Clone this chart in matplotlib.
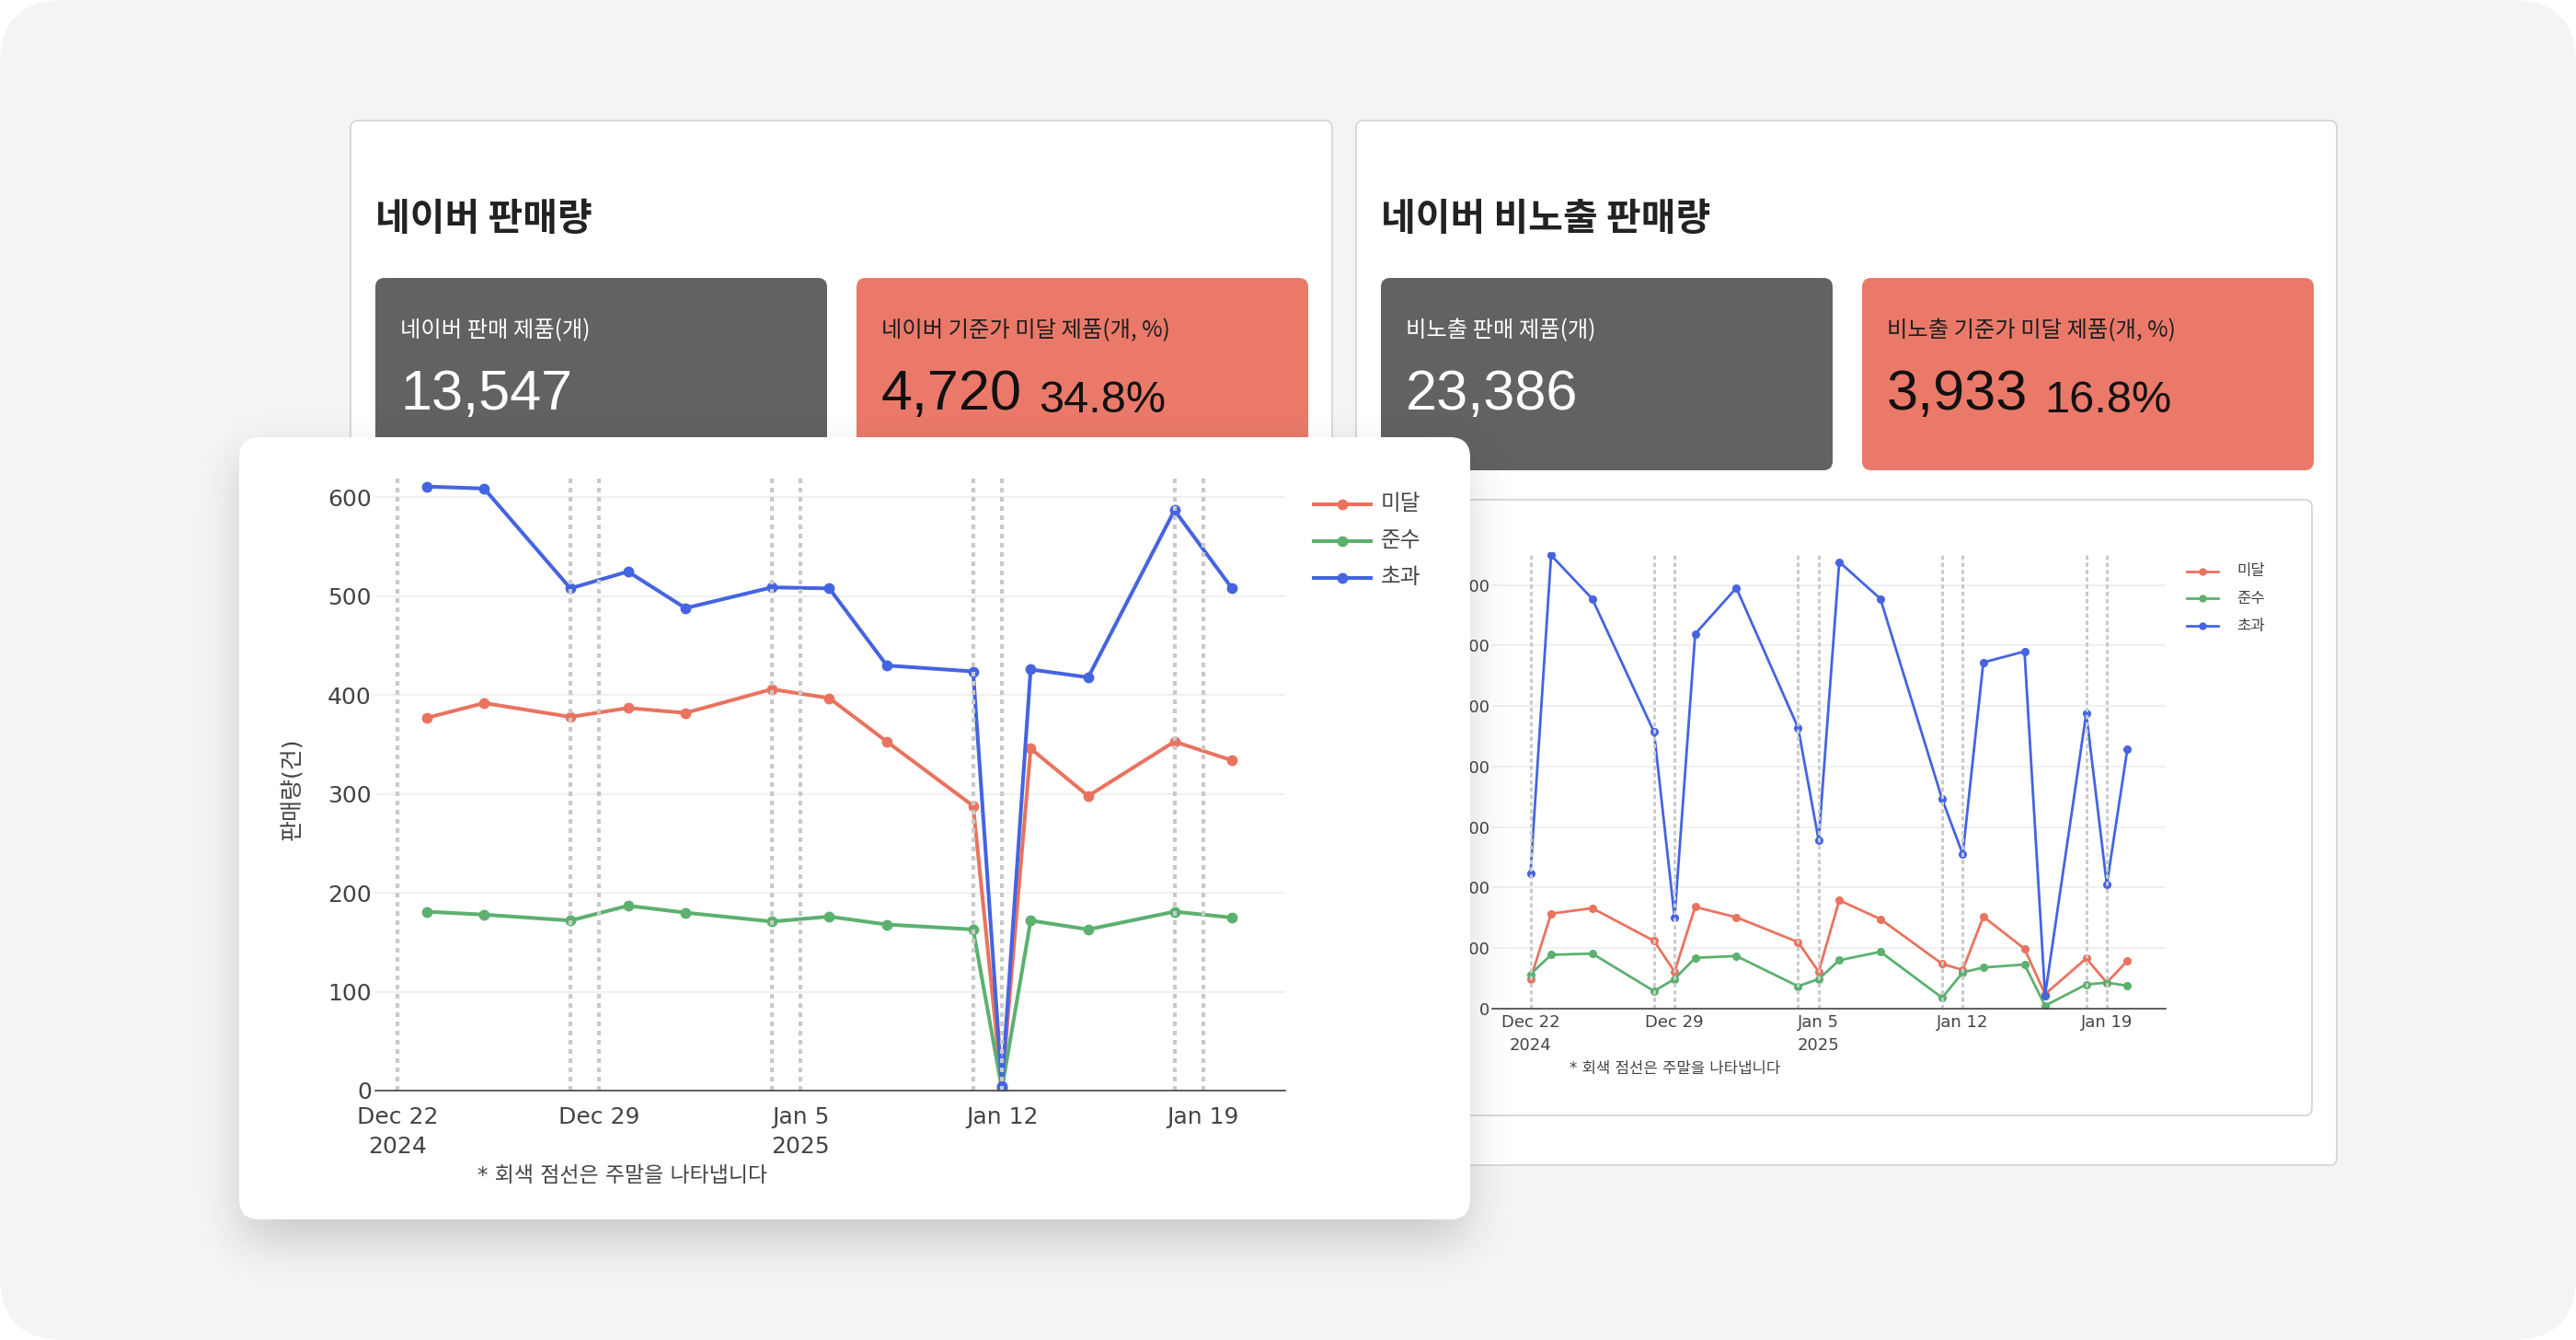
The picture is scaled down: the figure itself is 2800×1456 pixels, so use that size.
import numpy as np
import matplotlib
matplotlib.use("Agg")
import matplotlib.pyplot as plt
import matplotlib.dates as mdates
from matplotlib.patches import FancyBboxPatch

plt.rcParams['font.family'] = ['DejaVu Sans', 'Noto Sans CJK KR']

W, H = 2800, 1456

# ---- data: front chart (네이버 판매량)
naver_dates = ['2024-12-23', '2024-12-25', '2024-12-28', '2024-12-30', '2025-01-01',
               '2025-01-04', '2025-01-06', '2025-01-08', '2025-01-11', '2025-01-12',
               '2025-01-13', '2025-01-15', '2025-01-18', '2025-01-20']
naver_under = [377, 392, 378, 387, 382, 406, 397, 353, 288, 3, 346, 298, 353, 334]
naver_keep = [181, 178, 172, 187, 180, 171, 176, 168, 163, 2, 172, 163, 181, 175]
naver_over = [611, 609, 508, 525, 488, 509, 508, 430, 424, 5, 426, 418, 587, 508]

# ---- data: back chart (네이버 비노출 판매량)
hidden_dates = ['2024-12-22', '2024-12-23', '2024-12-25', '2024-12-28', '2024-12-29',
                '2024-12-30', '2025-01-01', '2025-01-04', '2025-01-05', '2025-01-06',
                '2025-01-08', '2025-01-11', '2025-01-12', '2025-01-13', '2025-01-15',
                '2025-01-16', '2025-01-18', '2025-01-19', '2025-01-20']
hidden_under = [49, 157, 166, 112, 61, 168, 151, 110, 61, 179, 148, 74, 64, 152, 99, 24, 83, 43, 79]
hidden_keep = [57, 89, 91, 29, 49, 84, 87, 37, 49, 80, 94, 18, 60, 68, 73, 5, 40, 43, 38]
hidden_over = [224, 749, 677, 457, 150, 619, 695, 464, 278, 738, 677, 346, 255, 572, 590, 22, 488, 205, 429]

weekends = ['2024-12-22', '2024-12-28', '2024-12-29', '2025-01-04', '2025-01-05',
            '2025-01-11', '2025-01-12', '2025-01-18', '2025-01-19']
tick_dates = ['2024-12-22', '2024-12-29', '2025-01-05', '2025-01-12', '2025-01-19']
tick_labels = ['Dec 22\n2024', 'Dec 29', 'Jan 5\n2025', 'Jan 12', 'Jan 19']

series_names = ['미달', '준수', '초과']
series_colors = ['#E9735F', '#5CB070', '#4464E0']

kpi_titles = ['네이버 판매량', '네이버 비노출 판매량']
kpi_labels = [['네이버 판매 제품(개)', '네이버 기준가 미달 제품(개, %)'],
              ['비노출 판매 제품(개)', '비노출 기준가 미달 제품(개, %)']]
kpi_counts = ['13,547', '23,386']
kpi_under = ['4,720', '3,933']
kpi_pct = ['34.8%', '16.8%']

note = '* 회색 점선은 주말을 나타냅니다'


def fig_rect(l, t, r, b):
    return [l / W, 1 - b / H, (r - l) / W, (b - t) / H]


def rbox(ax, x0, y0, x1, y1, r, fc, ec='none', lw=0, z=1):
    p = FancyBboxPatch((x0, y0), x1 - x0, y1 - y0,
                       boxstyle=f"round,pad=0,rounding_size={r}",
                       fc=fc, ec=ec, lw=lw, zorder=z)
    ax.add_patch(p)


def blur(a, r, axis):
    pad = [(r + 1, r) if i == axis else (0, 0) for i in range(2)]
    c = np.cumsum(np.pad(a, pad, mode='edge'), axis=axis)
    n = a.shape[axis]
    hi = np.take(c, np.arange(2 * r + 1, 2 * r + 1 + n), axis=axis)
    lo = np.take(c, np.arange(0, n), axis=axis)
    return (hi - lo) / (2 * r + 1)


def pixel_axes(fig, z):
    ax = fig.add_axes([0, 0, 1, 1])
    ax.set_xlim(0, W)
    ax.set_ylim(H, 0)
    ax.axis('off')
    ax.set_zorder(z)
    ax.patch.set_visible(False)
    return ax


def draw_chart(ax, dates, series, xpad, ymax, lw, ms, vlw, vdash, fs, xpad_pt, ypad_pt):
    d = np.array(dates, dtype='datetime64[D]')
    for vals, col in zip(series, series_colors):
        ax.plot(d, vals, color=col, lw=lw, marker='o', ms=ms, zorder=3,
                solid_joinstyle='round')
    for w in weekends:
        ax.axvline(np.datetime64(w), color='#C9C9C9', lw=vlw, ls=(0, vdash),
                   zorder=5, dash_capstyle='butt')
    x0 = mdates.date2num(np.datetime64('2024-12-22'))
    ax.set_xlim(x0 - xpad[0], x0 + xpad[1])
    ax.set_ylim(0, ymax)
    ax.set_xticks([mdates.date2num(np.datetime64(t)) for t in tick_dates])
    ax.set_xticklabels(tick_labels, ha='center', multialignment='center',
                       linespacing=1.45)
    ax.set_yticks(np.arange(0, ymax, 100))
    ax.yaxis.grid(True, color='#ECECEC', lw=1.1)
    ax.set_axisbelow(True)
    for s in ['left', 'right', 'top']:
        ax.spines[s].set_visible(False)
    ax.spines['bottom'].set_color('#444444')
    ax.spines['bottom'].set_linewidth(1.2)
    ax.spines['bottom'].set_zorder(6)
    ax.tick_params(axis='both', length=0, labelsize=fs, colors='#444444')
    ax.tick_params(axis='x', pad=xpad_pt)
    ax.tick_params(axis='y', pad=ypad_pt)
    ax.set_facecolor('none')


def legend(ax, x0, x1, xt, ys, lw, ms, fs, z):
    for name, col, y in zip(series_names, series_colors, ys):
        ax.plot([x0, x1], [y, y], color=col, lw=lw, zorder=z)
        ax.plot([(x0 + x1) / 2], [y], 'o', color=col, ms=ms, zorder=z)
        ax.text(xt, y, name, fontsize=fs, color='#444444', va='center', ha='left',
                family=['Noto Sans CJK KR'], zorder=z)


fig = plt.figure(figsize=(W / 100, H / 100), dpi=100)
fig.patch.set_facecolor('white')

# ---- background: panel, back cards, KPI boxes
bg = pixel_axes(fig, 0)
rbox(bg, 0, 0, W, H, 70, '#F5F3F4')
cards = [(381, 131, 1448, 1266), (1474, 131, 2540, 1266)]
for i, (cx0, cy0, cx1, cy1) in enumerate(cards):
    rbox(bg, cx0, cy0, cx1, cy1, 8, 'white', ec='#D6D6D6', lw=1.3, z=2)
    bx = cx0 + 27
    bg.text(bx, 238, kpi_titles[i], fontsize=29.5, fontweight='bold', color='#222222',
            va='center', ha='left', family=['Noto Sans CJK KR'], zorder=3)
    w_box = 491
    dx0, sx0 = bx, bx + w_box + 32
    rbox(bg, dx0, 302, dx0 + w_box, 511, 10, '#626262', z=3)
    rbox(bg, sx0, 302, sx0 + w_box, 511, 10, '#EB7969', z=3)
    bg.text(dx0 + 27, 359, kpi_labels[i][0], fontsize=17.5, color='white', va='center',
            family=['Noto Sans CJK KR'], zorder=4)
    bg.text(sx0 + 27, 359, kpi_labels[i][1], fontsize=17.5, color='#1E1E1E', va='center',
            family=['Noto Sans CJK KR'], zorder=4)
    bg.text(dx0 + 27, 445, kpi_counts[i], fontsize=44, color='white', va='baseline',
            family='Liberation Sans', zorder=4)
    t = bg.text(sx0 + 27, 445, kpi_under[i], fontsize=44, color='#111111', va='baseline',
                family='Liberation Sans', zorder=4)
    bg.annotate(kpi_pct[i], xy=(1, 0), xycoords=t, xytext=(18, 0),
                textcoords='offset pixels', fontsize=35, color='#111111',
                va='bottom', family='Liberation Sans', zorder=4)
# chart sub-box of the right card
rbox(bg, 1500, 543, 2513, 1212, 8, 'white', ec='#D6D6D6', lw=1.3, z=2)

# ---- back chart (비노출)
ax2 = fig.add_axes(fig_rect(1622, 600, 2354, 1096))
ax2.set_zorder(1)
draw_chart(ax2, hidden_dates, [hidden_under, hidden_keep, hidden_over],
           (1.86, 30.86), 754, 2.0, 5.5, 2.1, (1.6, 1.1), 13, 4.5, 2)
legend(bg, 2377, 2411, 2431, [621, 650, 680], 2.0, 5, 12, 5)
bg.text(1821, 1161, note, fontsize=12, color='#444444', ha='center', va='center', zorder=5)

# ---- front card with shadow
ov = pixel_axes(fig, 2)
fx0, fy0, fx1, fy1 = 260, 475, 1598, 1325
mask = np.zeros((H, W))
mask[fy0 + 22:fy1 + 22, fx0 + 4:fx1 - 4] = 1.0
for _ in range(3):
    mask = blur(mask, 24, 0)
    mask = blur(mask, 24, 1)
shadow = np.zeros((H, W, 4))
shadow[..., 3] = mask * 0.18
ov.imshow(shadow, extent=(0, W, H, 0), interpolation='bilinear', zorder=1)
ov.set_aspect('auto')
ov.set_xlim(0, W)
ov.set_ylim(H, 0)
rbox(ov, fx0, fy0, fx1, fy1, 22, 'white', z=2)
ov.text(318, 857, '판매량(건)', rotation=90, fontsize=18, color='#444444',
        ha='center', va='center', zorder=3)
ov.text(677, 1278, note, fontsize=16.5, color='#444444', ha='center', va='center', zorder=3)
legend(ov, 1428, 1490, 1501, [548, 588, 628], 2.9, 7.5, 17, 3)

# ---- front chart (네이버 판매량)
ax1 = fig.add_axes(fig_rect(408, 519, 1397, 1185))
ax1.set_zorder(3)
draw_chart(ax1, naver_dates, [naver_under, naver_keep, naver_over],
           (0.78, 30.85), 620, 2.9, 7.5, 3.0, (1.2, 1.2), 18, 12, 3)

fig.savefig('out.png', dpi=100, facecolor='white')
